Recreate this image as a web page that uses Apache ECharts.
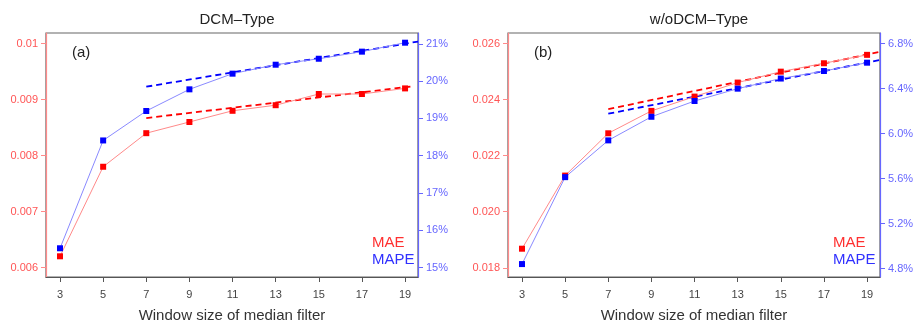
<!DOCTYPE html>
<html>
<head>
<meta charset="utf-8">
<script src="https://cdn.jsdelivr.net/npm/echarts@6/dist/echarts.min.js"></script>
<style>
  html, body { margin: 0; padding: 0; background: #fff; }
  #chart { width: 914px; height: 325px; }
</style>
</head>
<body>
<div id="chart"></div>
<script>
// window sizes
const windows = [3, 5, 7, 9, 11, 13, 15, 17, 19]

// (a) DCM-Type
const maeA = [0.0062, 0.0078, 0.0084, 0.0086, 0.0088, 0.0089, 0.0091, 0.0091, 0.0092]
const mapeA = [15.52, 18.41, 19.20, 19.78, 20.20, 20.44, 20.60, 20.79, 21.03]
const maeTrendA = [[7, 0.00867], [19.4, 0.00924]]
const mapeTrendA = [[7, 19.85], [19.6, 21.06]]

// (b) w/oDCM-Type
const maeB = [0.01868, 0.02129, 0.0228, 0.0236, 0.02411, 0.02461, 0.0250, 0.0253, 0.0256]
const mapeB = [4.84, 5.613, 5.94, 6.15, 6.29, 6.40, 6.49, 6.557, 6.631]
const maeTrendB = [[7, 0.02366], [19.6, 0.02571]]
const mapeTrendB = [[7, 6.177], [19.6, 6.655]]

// tick labels
const maeTicksA = [0.006, 0.007, 0.008, 0.009, 0.01]
const mapeTicksA = [15, 16, 17, 18, 19, 20, 21]
const maeTicksB = [0.018, 0.020, 0.022, 0.024, 0.026]
const mapeTicksB = [4.8, 5.2, 5.6, 6.0, 6.4, 6.8]

const RED = '#ff0000'
const BLUE = '#0000ff'
const RED_LINE = '#ff8a8a'
const BLUE_LINE = '#8a8aff'
const RED_TXT = '#ff5555'
const BLUE_TXT = '#6666ff'
const FONT = '"Liberation Sans", Arial, sans-serif'

const pairs = xs => xs.map((v, i) => [windows[i], v])

const xAxisFor = gridIndex => ({
  type: 'value',
  gridIndex,
  min: 2.35,
  max: 19.6,
  name: 'Window size of median filter',
  nameLocation: 'middle',
  nameGap: 31,
  nameTextStyle: { fontFamily: FONT, fontSize: 15, color: '#333' },
  axisLine: { show: true, onZero: false, lineStyle: { color: '#555', width: 1.2 } },
  axisTick: { show: true, customValues: windows, length: 5, lineStyle: { color: '#555' } },
  axisLabel: { customValues: windows, margin: 12, fontFamily: FONT, fontSize: 11, color: '#444' },
  splitLine: { show: false },
})

const yAxisFor = (gridIndex, pos, min, max, ticks, color, txt, fmt) => ({
  type: 'value',
  gridIndex,
  position: pos,
  min,
  max,
  axisLine: { show: true, lineStyle: { color, width: 1.2 } },
  axisTick: { show: true, customValues: ticks, length: 5, lineStyle: { color } },
  axisLabel: { customValues: ticks, margin: 8, fontFamily: FONT, fontSize: 11, color: txt, formatter: fmt },
  splitLine: { show: false },
})

const pointSeries = (name, data, xi, yi, marker, line) => ({
  name,
  type: 'line',
  xAxisIndex: xi,
  yAxisIndex: yi,
  data,
  symbol: 'rect',
  symbolSize: 6,
  itemStyle: { color: marker },
  lineStyle: { color: line, width: 1 },
  z: 3,
})

const trendSeries = (name, data, xi, yi, color) => ({
  name,
  type: 'line',
  xAxisIndex: xi,
  yAxisIndex: yi,
  data,
  symbol: 'none',
  lineStyle: { color, width: 1.8, type: [6, 4] },
  z: 2,
})

const chart = echarts.init(document.getElementById('chart'))

chart.setOption({
  animation: false,
  backgroundColor: '#fff',
  textStyle: { fontFamily: FONT },
  title: [
    { text: 'DCM\u2013Type', left: 232, top: 7, textAlign: 'center',
      textStyle: { fontFamily: FONT, fontSize: 15, fontWeight: 'normal', color: '#222' } },
    { text: 'w/oDCM\u2013Type', left: 694, top: 7, textAlign: 'center',
      textStyle: { fontFamily: FONT, fontSize: 15, fontWeight: 'normal', color: '#222' } },
  ],
  graphic: [
    { type: 'text', left: 72, top: 45, style: { text: '(a)', font: '15px ' + FONT, fill: '#222' } },
    { type: 'text', left: 534, top: 45, style: { text: '(b)', font: '15px ' + FONT, fill: '#222' } },
    { type: 'text', left: 372, top: 235, style: { text: 'MAE', font: '15px ' + FONT, fill: '#ff3030' } },
    { type: 'text', left: 372, top: 252, style: { text: 'MAPE', font: '15px ' + FONT, fill: '#3030ff' } },
    { type: 'text', left: 833, top: 235, style: { text: 'MAE', font: '15px ' + FONT, fill: '#ff3030' } },
    { type: 'text', left: 833, top: 252, style: { text: 'MAPE', font: '15px ' + FONT, fill: '#3030ff' } },
  ],
  grid: [
    { left: 46, right: 496, top: 33, height: 244, outerBoundsMode: 'none', containLabel: false,
      show: true, borderColor: '#666', borderWidth: 1.2 },
    { left: 508, right: 34, top: 33, height: 244, outerBoundsMode: 'none', containLabel: false,
      show: true, borderColor: '#666', borderWidth: 1.2 },
  ],
  xAxis: [xAxisFor(0), xAxisFor(1)],
  yAxis: [
    yAxisFor(0, 'left', 0.00583, 0.01019, maeTicksA, RED_LINE, RED_TXT, v => String(Number(v.toFixed(3)))),
    yAxisFor(0, 'right', 14.75, 21.29, mapeTicksA, BLUE_TXT, BLUE_TXT, v => Math.round(v) + '%'),
    yAxisFor(1, 'left', 0.01767, 0.02638, maeTicksB, RED_LINE, RED_TXT, v => v.toFixed(3)),
    yAxisFor(1, 'right', 4.725, 6.895, mapeTicksB, BLUE_TXT, BLUE_TXT, v => v.toFixed(1) + '%'),
  ],
  series: [
    pointSeries('MAE', pairs(maeA), 0, 0, RED, RED_LINE),
    pointSeries('MAPE', pairs(mapeA), 0, 1, BLUE, BLUE_LINE),
    trendSeries('MAE trend', maeTrendA, 0, 0, RED),
    trendSeries('MAPE trend', mapeTrendA, 0, 1, BLUE),
    pointSeries('MAE', pairs(maeB), 1, 2, RED, RED_LINE),
    pointSeries('MAPE', pairs(mapeB), 1, 3, BLUE, BLUE_LINE),
    trendSeries('MAE trend', maeTrendB, 1, 2, RED),
    trendSeries('MAPE trend', mapeTrendB, 1, 3, BLUE),
  ],
})
</script>
</body>
</html>
